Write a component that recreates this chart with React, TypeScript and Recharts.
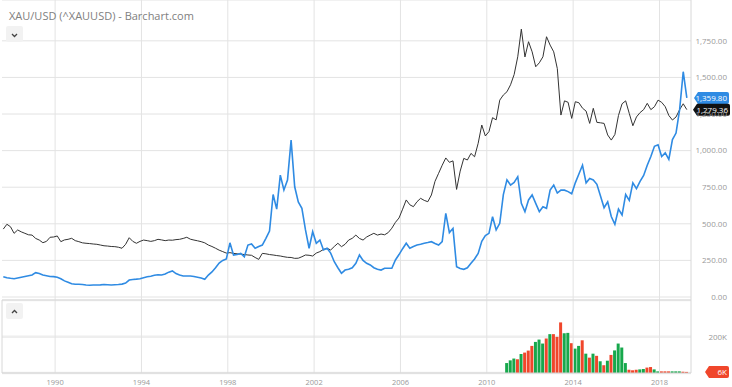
import React from 'react'
import {
  ComposedChart,
  Line,
  Bar,
  Cell,
  XAxis,
  YAxis,
  CartesianGrid,
  ReferenceLine,
} from 'recharts'

// bimonthly closes, first point Sep 1987, last point Apr 2019
const firstPeriod = 1987.6
const periodsPerYear = 6

const goldClose: number[] = [
  464, 497, // 1987
  480, 435, 458, 445, 435, 425, // 1988
  423, 400, 389, 371, 380, 408, // 1989
  410, 417, 378, 390, 394, 401, // 1990
  385, 378, 370, 367, 365, 362, // 1991
  360, 355, 350, 348, 345, 344, // 1992
  340, 333, 360, 405, 380, 367, // 1993
  380, 389, 385, 380, 385, 394, // 1994
  390, 385, 389, 388, 392, 394, // 1995
  400, 408, 395, 389, 384, 378, // 1996
  370, 355, 345, 333, 320, 310, // 1997
  300, 303, 298, 295, 293, 290, // 1998
  287, 285, 270, 257, 298, 295, // 1999
  290, 287, 283, 280, 275, 271, // 2000
  270, 264, 265, 275, 287, 285, // 2001
  280, 300, 310, 325, 333, 321, // 2002
  345, 367, 344, 360, 389, 401, // 2003
  423, 400, 389, 410, 423, 435, // 2004
  423, 430, 425, 440, 470, 510, // 2005
  540, 600, 663, 630, 617, 651, // 2006
  674, 660, 651, 697, 790, 845, // 2007
  900, 950, 920, 930, 735, 860, // 2008
  947, 936, 981, 958, 1050, 1175, // 2009
  1100, 1130, 1225, 1210, 1345, 1380, // 2010
  1402, 1450, 1520, 1641, 1830, 1640, // 2011
  1744, 1675, 1573, 1600, 1641, 1778, // 2012
  1721, 1675, 1560, 1243, 1340, 1330, // 2013
  1220, 1334, 1327, 1290, 1270, 1186, // 2014
  1289, 1193, 1190, 1186, 1107, 1072, // 2015
  1110, 1240, 1320, 1340, 1254, 1170, // 2016
  1230, 1260, 1280, 1323, 1280, 1300, // 2017
  1345, 1330, 1300, 1240, 1209, 1230, // 2018
  1280, 1320, 1280, // 2019
]

const compareClose: number[] = [
  139, 132, // 1987
  128, 125, 130, 135, 140, 145, // 1988
  150, 166, 160, 150, 145, 140, // 1989
  139, 135, 125, 110, 100, 90, // 1990
  87, 87, 85, 82, 80, 82, // 1991
  82, 83, 85, 84, 82, 84, // 1992
  85, 88, 95, 116, 120, 122, // 1993
  125, 132, 138, 142, 148, 152, // 1994
  150, 157, 170, 178, 160, 150, // 1995
  143, 143, 143, 140, 135, 130, // 1996
  121, 150, 171, 200, 232, 250, // 1997
  260, 370, 286, 290, 298, 275, // 1998
  355, 362, 333, 345, 355, 401, // 1999
  450, 700, 600, 833, 731, 799, // 2000
  1072, 753, 650, 606, 458, 333, // 2001
  446, 367, 389, 321, 333, 300, // 2002
  241, 200, 162, 184, 190, 200, // 2003
  230, 287, 250, 230, 219, 200, // 2004
  190, 184, 196, 196, 196, 253, // 2005
  290, 330, 367, 333, 345, 355, // 2006
  360, 367, 372, 378, 365, 355, // 2007
  378, 572, 440, 469, 207, 195, // 2008
  189, 200, 230, 260, 298, 380, // 2009
  420, 435, 548, 458, 503, 700, // 2010
  800, 765, 783, 822, 640, 583, // 2011
  663, 697, 640, 583, 617, 606, // 2012
  730, 765, 710, 730, 730, 720, // 2013
  705, 780, 840, 900, 780, 810, // 2014
  800, 770, 690, 610, 650, 550, // 2015
  497, 600, 560, 700, 660, 780, // 2016
  740, 790, 830, 900, 960, 1030, // 2017
  1040, 960, 985, 940, 1075, 1120, // 2018
  1280, 1539, 1360, // 2019
]

// volume panel, thousands, starts at the first 2011 period
const volumeStartIndex = 140
const volumeK: number[] = [
  55, 70, 80, 76, 105, 113, // 2011
  124, 150, 172, 185, 163, 191, // 2012
  215, 215, 200, 280, 220, 222, // 2013
  165, 135, 150, 181, 107, 85, // 2014
  107, 95, 65, 43, 68, 100, // 2015
  125, 163, 141, 55, 18, 15, // 2016
  18, 20, 22, 30, 33, 20, // 2017
  9, 9, 9, 9, 9, 9, // 2018
  9, 7, 6, // 2019
]
const volumeSide = 'gggrgr' + 'rrgggr' + 'grrrgg' + 'rggrgr' + 'grgrgr' + 'ggggrr' + 'rggrrg' + 'grrrgg' + 'grr'

const yearTicks = [1990, 1994, 1998, 2002, 2006, 2010, 2014, 2018]
const priceTicks = [0, 250, 500, 750, 1000, 1250, 1500, 1750]
const volumeTicks = [200000]
const lastGold = 1279.36
const lastCompare = 1359.8
const lastVolume = 6000

const xDomain: [number, number] = [1987.54, 2019.46]
const priceDomain: [number, number] = [-20.5, 2029]
const volumeDomain: [number, number] = [0, 404000]

const priceRows = goldClose.map((gold, i) => ({
  t: firstPeriod + i / periodsPerYear,
  gold,
  compare: compareClose[i],
}))

const volumeRows = volumeK.map((v, i) => ({
  t: firstPeriod + (volumeStartIndex + i) / periodsPerYear,
  volume: v * 1000,
  up: volumeSide[i] === 'g',
}))

const GRID = '#e3e3e3'
const LABEL = '#999'
const BLUE = '#2f8be3'
const RED = '#f0462b'
const GREEN = '#17a84c'
const FONT = "'Open Sans', sans-serif"

const fmtPrice = (v: number) =>
  v.toLocaleString('en-US', { minimumFractionDigits: 2, maximumFractionDigits: 2 })

const RightTick = (props: any) => {
  const { x, y, payload, formatter } = props
  return (
    <text x={x + 36} y={y} dy="0.35em" textAnchor="end" fontSize={8} fill={LABEL} fontFamily={FONT}>
      {formatter(payload.value)}
    </text>
  )
}

const ValueTag = (props: any) => {
  const { viewBox, text, fill, gap, right } = props
  if (!viewBox) return null
  const y = viewBox.y
  const x0 = viewBox.x + viewBox.width + gap
  const x1 = x0 + right
  return (
    <g>
      <path
        d={`M${x0},${y} L${x0 + 4},${y - 6} L${x1 - 2},${y - 6} Q${x1},${y - 6} ${x1},${y - 4} L${x1},${y + 4} Q${x1},${y + 6} ${x1 - 2},${y + 6} L${x0 + 4},${y + 6} Z`}
        fill={fill}
      />
      <text x={x1 - 2} y={y} dy="0.35em" textAnchor="end" fontSize={8} fill="#fff" fontFamily={FONT}>
        {text}
      </text>
    </g>
  )
}

const Toggle = ({ top, up }: { top: number; up: boolean }) => (
  <div
    style={{
      position: 'absolute',
      left: 6,
      top,
      width: 17,
      height: 16,
      background: '#f2f2f2',
      borderRadius: 2,
    }}
  >
    <svg width={17} height={16}>
      <polyline
        points={up ? '6,9 8.5,6.5 11,9' : '6,7 8.5,9.5 11,7'}
        fill="none"
        stroke="#444"
        strokeWidth={1.3}
      />
    </svg>
  </div>
)

const App: React.FC = () => {
  return (
    <div
      style={{
        position: 'absolute',
        left: 0,
        top: 0,
        width: 732,
        height: 387,
        background: '#fff',
        fontFamily: FONT,
        overflow: 'hidden',
      }}
    >
      <div style={{ position: 'absolute', left: 0, top: 0 }}>
        <ComposedChart
          width={732}
          height={306}
          data={priceRows}
          margin={{ top: 0, right: 0, bottom: 6, left: 2 }}
        >
          <CartesianGrid vertical={false} stroke={GRID} />
          <XAxis type="number" dataKey="t" domain={xDomain} hide allowDataOverflow />
          <YAxis
            orientation="right"
            width={41}
            domain={priceDomain}
            ticks={priceTicks}
            interval={0}
            axisLine={false}
            tickLine={false}
            tickSize={0}
            tickMargin={0}
            tick={<RightTick formatter={fmtPrice} />}
            allowDataOverflow
          />
          {yearTicks.map((yr) => (
            <ReferenceLine key={yr} x={yr} stroke={GRID} />
          ))}
          <ReferenceLine x={xDomain[1]} stroke="#d8d8d8" />
          <ReferenceLine y={priceDomain[0]} stroke="#d8d8d8" />
          <Line
            dataKey="gold"
            stroke="#333"
            strokeWidth={1}
            dot={false}
            isAnimationActive={false}
          />
          <Line
            dataKey="compare"
            stroke={BLUE}
            strokeWidth={1.6}
            dot={false}
            isAnimationActive={false}
          />
          <ReferenceLine
            y={lastCompare}
            stroke="none"
            label={<ValueTag text={fmtPrice(lastCompare)} fill={BLUE} gap={3} right={35} />}
          />
          <ReferenceLine
            y={lastGold}
            stroke="none"
            label={<ValueTag text={fmtPrice(lastGold)} fill="#111" gap={2} right={37} />}
          />
        </ComposedChart>
      </div>

      <div style={{ position: 'absolute', left: 0, top: 300 }}>
        <ComposedChart
          width={732}
          height={87}
          data={volumeRows}
          margin={{ top: 0, right: 0, bottom: 0, left: 2 }}
        >
          <CartesianGrid vertical={false} stroke="#eeeeee" strokeWidth={2.5} />
          <XAxis
            type="number"
            dataKey="t"
            domain={xDomain}
            ticks={yearTicks}
            interval={0}
            height={14}
            tickFormatter={(v: number) => String(v)}
            axisLine={{ stroke: '#d4d4d4' }}
            tickLine={false}
            tickSize={5}
            tick={{ fontSize: 7.5, fill: LABEL, fontFamily: FONT }}
            allowDataOverflow
          />
          <YAxis
            orientation="right"
            width={41}
            domain={volumeDomain}
            ticks={volumeTicks}
            interval={0}
            axisLine={false}
            tickLine={false}
            tickSize={0}
            tickMargin={0}
            tick={<RightTick formatter={(v: number) => `${v / 1000}K`} />}
            allowDataOverflow
          />
          {yearTicks.map((yr) => (
            <ReferenceLine key={yr} x={yr} stroke={GRID} />
          ))}
          <ReferenceLine x={xDomain[0]} stroke="#d8d8d8" />
          <ReferenceLine x={xDomain[1]} stroke="#d8d8d8" />
          <ReferenceLine y={volumeDomain[1]} stroke="#d8d8d8" />
          <Bar dataKey="volume" barSize={3} isAnimationActive={false}>
            {volumeRows.map((r, i) => (
              <Cell key={i} fill={r.up ? GREEN : RED} />
            ))}
          </Bar>
          <ReferenceLine
            y={lastVolume}
            stroke="none"
            label={<ValueTag text="6K" fill={RED} gap={14} right={24} />}
          />
        </ComposedChart>
      </div>

      <div
        style={{
          position: 'absolute',
          left: 9,
          top: 9,
          fontSize: 11,
          lineHeight: '14px',
          color: '#808080',
        }}
      >
        XAU/USD (^XAUUSD) - Barchart.com
      </div>
      <Toggle top={26} up={false} />
      <Toggle top={303} up={true} />
    </div>
  )
}

export default App
